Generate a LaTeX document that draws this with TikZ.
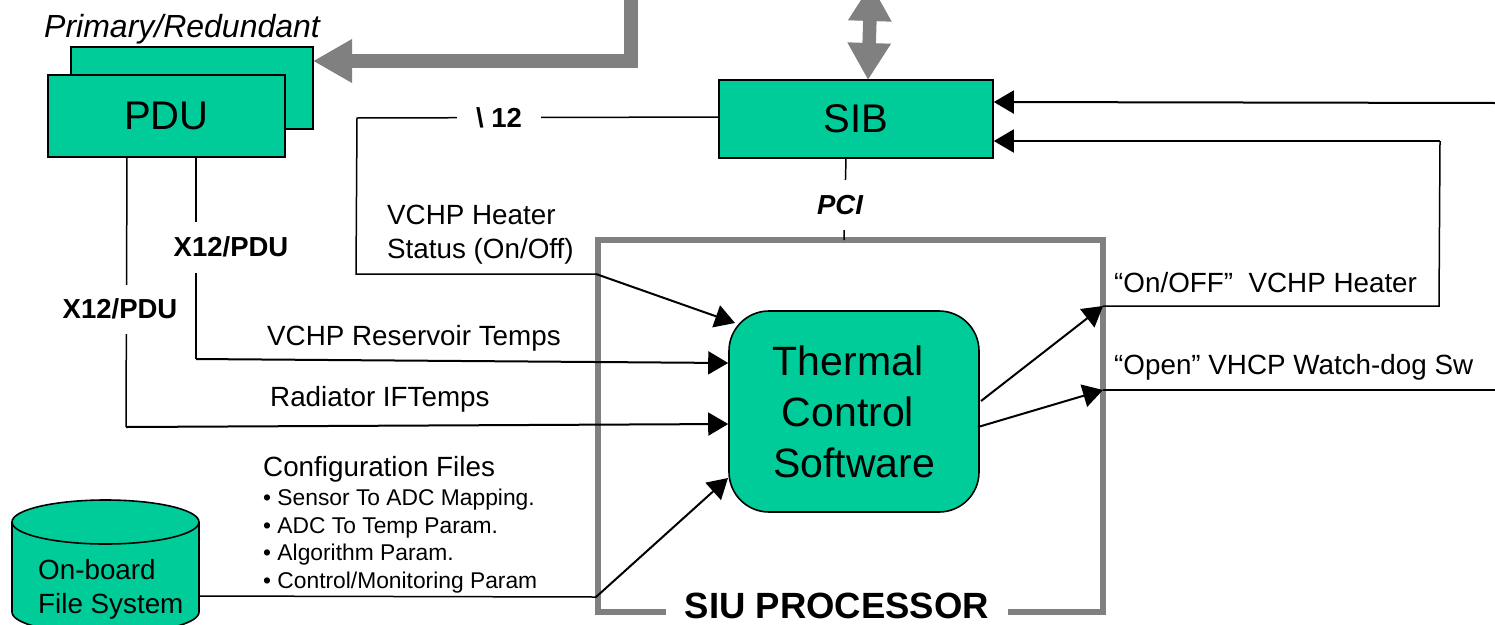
\documentclass[tikz,border=0pt]{standalone}
\usepackage{fontspec}
\setmainfont{Liberation Sans}
\usetikzlibrary{arrows.meta}
\definecolor{boxgreen}{RGB}{0,204,153}
\definecolor{busgray}{RGB}{128,128,128}
\newcommand{\sz}[2]{\fontsize{#1}{#2}\selectfont}

\begin{document}
\begin{tikzpicture}[x=1pt,y=-1pt,
  greenbox/.style={draw=black,fill=boxgreen,line width=1.6pt,inner sep=0pt,font=\sz{40}{50}},
  wire/.style={draw=black,line width=1.5pt},
  sig/.style={wire,line width=2pt,-{Triangle[length=20pt,width=23pt]}},
  bus/.style={draw=busgray,line width=13.5pt},
  txt/.style={inner sep=0pt,align=left,anchor=west,font=\sz{27.8}{34}},
  cut/.style={fill=white,inner sep=0pt,font=\sz{27.5}{34}\bfseries}]
\useasboundingbox (0,0) rectangle (1495,624);
% boxes
\node[greenbox,minimum width=242pt,minimum height=82pt] (pduback) at (192,88) {};
\node[greenbox,minimum width=237pt,minimum height=82pt] (pdu) at (166.5,116) {PDU};
\node[greenbox,minimum width=274pt,minimum height=78pt] (sib) at (856,119) {SIB};
\node[draw=busgray,line width=6pt,minimum width=505pt,minimum height=372pt,inner sep=0pt] (proc) at (850.5,426) {};
% file system drum
\draw[fill=boxgreen,line width=1.6pt] (12,522) -- (12,612) arc[start angle=180,end angle=360,x radius=93.5pt,y radius=22pt]
  -- (199,522) arc[start angle=0,end angle=180,x radius=93.5pt,y radius=22pt]
  arc[start angle=180,end angle=360,x radius=93.5pt,y radius=22pt];
\node[txt] (fstxt) at (38,589) {On-board\\File System};
% free ends
\coordinate (fs) at (199,596);
\coordinate (statusin) at (596,274);
\coordinate (onoff) at (1103,306);
\coordinate (open) at (1103,390);
\coordinate (cfgin) at (596,597);
\coordinate (onoffup) at (1439,306);
\coordinate (sibret) at (1440,141);
% busses
\coordinate (bustop) at (631,-10);
\coordinate (buscorner) at (631,61);
\draw[bus,-{Triangle[length=39pt,width=41pt]}] (bustop) -- (buscorner) -- (313,61);
\coordinate (sibup) at (871,-16);
\draw[bus,{Triangle[length=37pt,width=41pt]}-{Triangle[length=37pt,width=41pt]}] (sibup) -- (868,80);
% lines
\coordinate (statuscorner) at (357,118);
\draw[wire] (sib.west |- 0,117) -- (statuscorner) -- (356,274) -- (statusin);
\coordinate (x12a) at (127,157);
\coordinate (x12b) at (196,157);
\coordinate (tempa) at (126,427);
\coordinate (tempb) at (196,359);
\draw[wire] (x12a) -- (tempa);
\draw[wire] (x12b) -- (tempb);
\draw[wire] (846,158) -- (844,240);
\node[cut,minimum width=84pt] (lbl12) at (499,118) {\textbackslash{} 12};
\node[cut,minimum height=49pt] (x12pdua) at (120,309) {X12/PDU};
\node[cut,minimum height=51pt] (x12pdub) at (231,247) {X12/PDU};
\node[cut,font=\sz{27.5}{34}\bfseries\itshape,minimum height=50pt] (pci) at (840,205) {PCI};
\node[cut,font=\sz{36.5}{40}\bfseries,minimum width=342pt] (proclbl) at (837,606) {SIU PROCESSOR};
\node[inner sep=0pt,rounded corners=40pt,minimum width=250pt,minimum height=201pt,
  fill=boxgreen,draw=black,line width=1.6pt,font=\sz{41}{51},align=center] (tcs) at (854,411.5) {Thermal\kern12pt\\Control\kern12pt\\Software};
% signals into the software
\draw[sig] (statusin) -- (735,323);
\draw[sig] (tempb) -- (tcs.west |- 0,363);
\draw[sig] (tempa) -- (tcs.west |- 0,424);
\draw[wire] (fs) -- (cfgin);
\draw[sig] (cfgin) -- (728,478);
% signals out
\draw[sig] (981,401) -- (onoff);
\draw[sig] (978,427) -- (open);
\draw[wire] (onoff) -- (onoffup) -- (sibret);
\draw[wire] (open) -- (1495,390);
\draw[sig] (1495,103) -- (sib.east |- 0,102);
\draw[sig] (sibret) -- (sib.east |- 0,141);
% labels
\node[txt,font=\sz{32}{34}\itshape] (primary) at (44,29) {Primary/Redundant};
\node[txt] (heater) at (387,235) {VCHP Heater\\Status (On/Off)};
\node[txt] (reservoir) at (267,338) {VCHP Reservoir Temps};
\node[txt] (radiator) at (270,399) {Radiator IFTemps};
\node[txt] (config) at (263,469) {Configuration Files};
\node[txt,font=\sz{22.8}{27.7}] (params) at (263,541) {• Sensor To ADC Mapping.\\• ADC To Temp Param.\\• Algorithm Param.\\• Control/Monitoring Param};
\node[txt] (onofftxt) at (1114,283) {“On/OFF”\ \ VCHP Heater};
\node[txt] (opentxt) at (1114,367) {“Open” VHCP Watch-dog Sw};
\end{tikzpicture}
\end{document}
